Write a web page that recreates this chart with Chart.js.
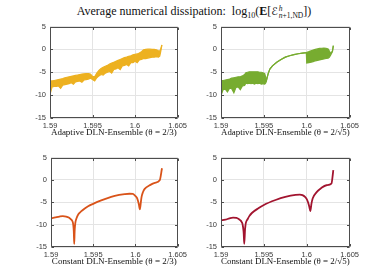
<!DOCTYPE html>
<html><head><meta charset="utf-8">
<script src="https://cdn.jsdelivr.net/npm/chart.js@4.4.0/dist/chart.umd.min.js"></script>
<style>
html,body{margin:0;padding:0;background:#fff;width:388px;height:277px;overflow:hidden;position:relative}
.pane{position:absolute}
#title{position:absolute;left:0;width:388px;top:3px;text-align:center;font-family:'Liberation Serif','DejaVu Serif',serif;font-size:12px;color:#111;white-space:nowrap;line-height:16px}
#title .scr{font-family:'DejaVu Sans',sans-serif;font-style:normal;font-size:11px}
#title .ss{display:inline-block;vertical-align:middle;line-height:7px;font-size:7.5px;text-align:left;margin-left:1px}
#title .ss span{display:block}
</style></head><body>
<div id="title">Average numerical dissipation:&nbsp; log<sub style="font-size:8px">10</sub>(<b>E</b>[<span class="scr">ℰ</span><span class="ss"><span><i>h</i></span><span><i>n</i>+1,ND</span></span>])</div>
<div class="pane" style="left:24px;top:18px;width:166px;height:122px"><canvas id="c1"></canvas></div>
<div class="pane" style="left:195px;top:18px;width:167px;height:122px"><canvas id="c2"></canvas></div>
<div class="pane" style="left:25px;top:149px;width:165px;height:120px"><canvas id="c3"></canvas></div>
<div class="pane" style="left:195px;top:149px;width:167px;height:120px"><canvas id="c4"></canvas></div>
<script>
const xTicks=[1.59,1.595,1.6,1.605];
const xTickLabels=['1.59','1.595','1.6','1.605'];
const yTicks=[-15,-10,-5,0,5];
const yTickLabels=['-15','-10','-5','0','5'];
const panelLabels=['Adaptive DLN-Ensemble (θ = 2/3)','Adaptive DLN-Ensemble (θ = 2/√5)','Constant DLN-Ensemble (θ = 2/3)','Constant DLN-Ensemble (θ = 2/√5)'];

// Adaptive, theta = 2/3 : noisy band (upper / lower envelope)
const adaptA_x=[1.5900,1.59025,1.5905,1.59075,1.5910,1.59125,1.5915,1.59175,1.5920,1.59225,1.5925,1.59275,1.5930,1.59325,1.5935,1.59375,1.5940,1.59425,1.5945,1.59475,1.5950,1.59525,1.5955,1.59575,1.5960,1.59625,1.5965,1.59675,1.5970,1.59725,1.5975,1.59775,1.5980,1.59825,1.5985,1.59875,1.5990,1.59925,1.5995,1.59975,1.6000,1.60025,1.6005,1.60075,1.6010,1.60125,1.6015,1.60175,1.6020,1.60225,1.6025,1.60275,1.6029,1.6030,1.60315];
const adaptA_hi=[-6.9,-6.9,-6.8,-6.7,-6.6,-6.5,-6.4,-6.2,-6.1,-6.0,-5.9,-5.8,-5.7,-5.6,-5.5,-5.4,-5.35,-5.3,-5.3,-5.4,-5.9,-6.0,-5.2,-4.6,-4.2,-3.9,-3.7,-3.5,-3.2,-3.0,-2.8,-2.6,-2.4,-2.2,-2.0,-1.8,-1.7,-1.5,-1.4,-1.2,-1.1,-1.0,-0.8,-0.5,-0.1,0.0,0.05,0.05,0.0,0.0,-0.1,-0.3,-0.4,0.0,1.0];
const adaptA_lo=[-9.8,-8.2,-8.1,-8.1,-8.0,-8.5,-7.8,-7.7,-7.6,-7.5,-7.3,-7.6,-7.1,-7.0,-6.9,-7.2,-6.7,-6.6,-6.5,-6.3,-6.6,-6.9,-6.2,-5.8,-5.5,-5.6,-5.2,-5.0,-4.8,-5.2,-4.4,-4.3,-4.0,-4.4,-3.6,-3.5,-3.3,-3.6,-2.9,-2.9,-2.6,-2.9,-2.3,-2.2,-2.0,-2.0,-1.9,-1.8,-1.7,-1.7,-1.6,-1.7,-1.5,-0.6,0.9];

// Adaptive, theta = 2/sqrt(5)
const adaptB_x=[1.5900,1.59025,1.5905,1.59075,1.5910,1.59125,1.5915,1.59175,1.5920,1.59225,1.5925,1.59275,1.5929,1.5931,1.5933,1.5935,1.5937,1.5939,1.5941,1.5943,1.5945,1.5947,1.5949,1.5951,1.5952,1.5953,1.5955,1.5957,1.5960,1.5965,1.5970,1.5975,1.5980,1.5985,1.5990,1.5995,1.59995,1.6000,1.60025,1.6005,1.60075,1.6010,1.60125,1.6015,1.60175,1.6020,1.60225,1.6025,1.60265,1.6028,1.6030,1.6031];
const adaptB_hi=[-6.8,-6.8,-6.7,-6.6,-6.5,-6.3,-6.2,-6.1,-6.0,-6.0,-5.8,-5.5,-5.1,-5.0,-4.9,-4.9,-4.9,-4.9,-4.9,-4.9,-5.0,-5.0,-5.1,-5.3,-6.0,-6.8,-5.3,-4.3,-3.6,-2.8,-2.2,-1.7,-1.4,-1.15,-0.95,-0.8,-0.7,-0.7,-0.5,-0.3,-0.15,0.0,0.1,0.2,0.25,0.3,0.25,0.1,-0.4,-0.9,-0.3,0.8];
const adaptB_lo=[-10.1,-8.8,-8.7,-9.3,-8.5,-8.6,-9.5,-8.3,-8.2,-8.8,-8.0,-7.9,-7.4,-7.5,-7.4,-7.5,-7.4,-7.6,-7.4,-7.5,-7.4,-7.6,-7.5,-7.6,-7.4,-6.8,-5.3,-4.3,-3.6,-2.8,-2.2,-1.7,-1.4,-1.15,-0.95,-0.8,-0.7,-3.0,-2.9,-2.8,-2.7,-2.5,-2.4,-2.3,-2.2,-2.1,-2.0,-1.9,-1.7,-1.2,-0.5,0.8];

// Constant, theta = 2/3
const constA_x=[1.5900,1.5905,1.5910,1.5914,1.5918,1.5921,1.5923,1.5925,1.5926,1.59265,1.5927,1.59275,1.5928,1.59285,1.5929,1.5930,1.59324,1.5936,1.5940,1.5944,1.5950,1.59564,1.59637,1.59755,1.59873,1.5993,1.5997,1.6000,1.6002,1.6004,1.60053,1.60065,1.60073,1.6009,1.6011,1.6017,1.6023,1.60288,1.60315];
const constA_y=[-8.6,-8.4,-8.2,-8.1,-8.2,-8.4,-8.7,-9.1,-9.6,-10.3,-11.5,-14.3,-11.5,-10.2,-9.4,-8.7,-7.7,-7.0,-6.4,-5.9,-5.35,-4.8,-4.3,-3.6,-3.2,-3.1,-3.15,-3.6,-4.1,-5.4,-6.6,-4.9,-3.8,-2.7,-2.0,-1.2,-0.65,-0.1,2.6];

// Constant, theta = 2/sqrt(5)
const constB_x=[1.5900,1.5905,1.5910,1.5914,1.5918,1.5921,1.5923,1.5924,1.5925,1.59255,1.5926,1.59265,1.59271,1.5928,1.59285,1.5929,1.5931,1.5933,1.5936,1.5944,1.5950,1.59636,1.5975,1.5987,1.5992,1.5995,1.5998,1.6000,1.60015,1.6003,1.60042,1.60055,1.6007,1.60113,1.6017,1.6023,1.60288,1.6031];
const constB_y=[-9.05,-8.9,-8.6,-8.45,-8.5,-8.8,-9.1,-9.4,-9.8,-10.3,-11.0,-12.0,-14.3,-11.2,-10.2,-9.6,-8.8,-8.1,-7.4,-6.3,-5.6,-4.5,-3.8,-3.35,-3.3,-3.4,-3.8,-4.3,-5.0,-6.0,-7.0,-5.3,-4.1,-2.8,-1.8,-1.2,-0.85,2.2];

const colors=['#EDB120','#77AC30','#D95319','#A2142F'];

function pts(xs,ys){return xs.map((v,i)=>({x:v,y:ys[i]}));}

const framePlugin={id:'frame',afterDraw(c){
  const ctx=c.ctx,a=c.chartArea,sx=c.scales.x,sy=c.scales.y;
  const L=Math.round(a.left)+0.5,R=Math.round(a.right)-0.5,T=Math.round(a.top)+0.5,B=Math.round(a.bottom)-0.5;
  ctx.save();ctx.strokeStyle='#4d4d4d';ctx.lineWidth=1;
  ctx.beginPath();ctx.moveTo(L,T);ctx.lineTo(R,T);ctx.lineTo(R,B);ctx.lineTo(L,B);ctx.closePath();
  xTicks.forEach(v=>{const p=Math.round(sx.getPixelForValue(v))+0.5;ctx.moveTo(p,B);ctx.lineTo(p,B-2.5);ctx.moveTo(p,T);ctx.lineTo(p,T+2.5);});
  yTicks.forEach(v=>{const p=Math.round(sy.getPixelForValue(v))+0.5;ctx.moveTo(L,p);ctx.lineTo(L+2.5,p);ctx.moveTo(R,p);ctx.lineTo(R-2.5,p);});
  ctx.stroke();ctx.restore();
}};

function makeChart(id,datasets,label){
  return new Chart(document.getElementById(id),{
    type:'line',
    data:{datasets},
    options:{
      responsive:true,maintainAspectRatio:false,animation:false,
      layout:{padding:{top:6,right:12,left:0,bottom:0}},
      plugins:{legend:{display:false},tooltip:{enabled:false}},
      elements:{point:{radius:0}},
      scales:{
        x:{type:'linear',min:1.59,max:1.605,
          afterBuildTicks:s=>{s.ticks=xTicks.map(v=>({value:v}));},
          afterFit:s=>{s.height=22;},
          grid:{color:'#e4e4e4',lineWidth:1,drawTicks:false},
          border:{display:false},
          ticks:{padding:3,maxRotation:0,autoSkip:false,color:'#3a3a3a',font:{family:'Liberation Sans',size:7.5},callback:(v,i)=>xTickLabels[i]},
          title:{display:true,text:label,color:'#111',font:{family:'Liberation Serif',size:9},padding:{top:0,bottom:1.5}}
        },
        y:{type:'linear',min:-15,max:5,
          afterBuildTicks:s=>{s.ticks=yTicks.map(v=>({value:v}));},
          afterFit:s=>{s.width=26;},
          grid:{color:'#e4e4e4',lineWidth:1,drawTicks:false},
          border:{display:false},
          ticks:{padding:4,color:'#3a3a3a',font:{family:'Liberation Sans',size:7.5},callback:(v,i)=>yTickLabels[i]}
        }
      }
    },
    plugins:[framePlugin]
  });
}

function bandSets(xs,hi,lo,col){
  return [
    {data:pts(xs,hi),borderColor:col,borderWidth:1.2,fill:false,tension:0},
    {data:pts(xs,lo),borderColor:col,backgroundColor:col,borderWidth:1.2,fill:'-1',tension:0}
  ];
}
function lineSet(xs,ys,col){
  return [{data:pts(xs,ys),borderColor:col,borderWidth:1.8,fill:false,cubicInterpolationMode:'monotone'}];
}

makeChart('c1',bandSets(adaptA_x,adaptA_hi,adaptA_lo,colors[0]),panelLabels[0]);
makeChart('c2',bandSets(adaptB_x,adaptB_hi,adaptB_lo,colors[1]),panelLabels[1]);
makeChart('c3',lineSet(constA_x,constA_y,colors[2]),panelLabels[2]);
makeChart('c4',lineSet(constB_x,constB_y,colors[3]),panelLabels[3]);
</script>
</body></html>
